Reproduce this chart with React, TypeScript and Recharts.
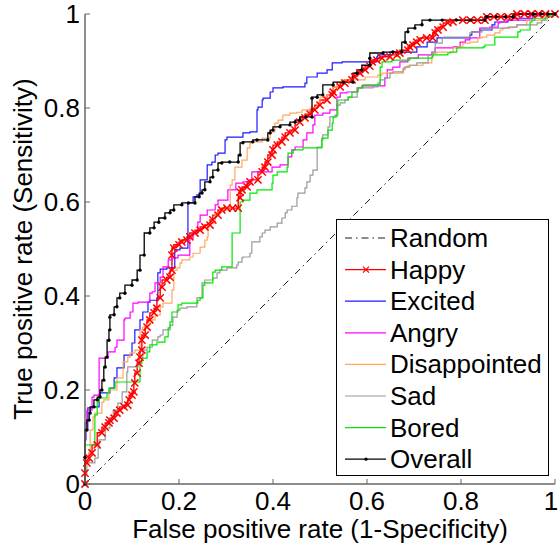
import { LineChart, Line, XAxis, YAxis, Legend, Label } from "recharts";

// ROC points, [false positive rate, true positive rate]
const tickValues = [0, 0.2, 0.4, 0.6, 0.8, 1];
const tickLabels = ["0", "0.2", "0.4", "0.6", "0.8", "1"];
const seriesNames = ["Random", "Happy", "Excited", "Angry", "Disappointed", "Sad", "Bored", "Overall"];
const xTitle = "False positive rate (1-Specificity)";
const yTitle = "True positive rate (Sensitivity)";

const randomRoc = [[0, 0], [1, 1]];

const happyRoc = [
  [0, 0], [0, 0.023], [0.004, 0.045], [0.009, 0.055], [0.015, 0.066], [0.026, 0.083], [0.036, 0.109],
  [0.043, 0.121], [0.051, 0.13], [0.053, 0.136], [0.062, 0.14], [0.068, 0.151], [0.074, 0.157],
  [0.083, 0.164], [0.091, 0.168], [0.094, 0.179], [0.1, 0.189], [0.104, 0.196], [0.106, 0.215],
  [0.111, 0.236], [0.115, 0.257], [0.117, 0.27], [0.121, 0.285], [0.121, 0.306], [0.128, 0.317],
  [0.132, 0.334], [0.138, 0.349], [0.147, 0.364], [0.153, 0.374], [0.16, 0.396], [0.164, 0.419],
  [0.174, 0.434], [0.181, 0.44], [0.185, 0.455], [0.185, 0.487], [0.189, 0.502], [0.2, 0.509],
  [0.206, 0.515], [0.217, 0.519], [0.223, 0.526], [0.234, 0.534], [0.245, 0.54], [0.255, 0.547],
  [0.266, 0.551], [0.272, 0.562], [0.283, 0.572], [0.291, 0.583], [0.302, 0.587], [0.314, 0.587],
  [0.326, 0.587], [0.33, 0.609], [0.33, 0.621], [0.334, 0.626], [0.345, 0.632], [0.351, 0.643],
  [0.368, 0.647], [0.377, 0.664], [0.383, 0.674], [0.389, 0.685], [0.398, 0.7], [0.4, 0.711],
  [0.409, 0.721], [0.419, 0.728], [0.426, 0.738], [0.436, 0.747], [0.447, 0.753], [0.457, 0.77],
  [0.468, 0.779], [0.479, 0.787], [0.489, 0.796], [0.5, 0.806], [0.515, 0.817], [0.526, 0.828],
  [0.528, 0.834], [0.543, 0.845], [0.553, 0.853], [0.568, 0.86], [0.574, 0.866], [0.585, 0.874],
  [0.596, 0.881], [0.606, 0.889], [0.611, 0.898], [0.621, 0.902], [0.632, 0.906], [0.649, 0.909],
  [0.664, 0.913], [0.67, 0.917], [0.687, 0.923], [0.691, 0.93], [0.698, 0.934], [0.706, 0.94],
  [0.713, 0.945], [0.727, 0.949], [0.74, 0.949], [0.745, 0.96], [0.751, 0.966], [0.762, 0.972],
  [0.772, 0.981], [0.783, 0.983], [0.804, 0.987], [0.82, 0.987], [0.835, 0.987], [0.851, 0.987],
  [0.855, 0.994], [0.87, 0.994], [0.885, 0.994], [0.9, 0.994], [0.915, 0.994], [0.919, 1],
  [0.935, 1], [0.95, 1], [0.965, 1], [0.98, 1], [1, 1],
];

const excitedRoc = [
  [0, 0], [0, 0.03], [0.002, 0.094], [0.006, 0.115], [0.015, 0.162], [0.03, 0.164], [0.032, 0.189],
  [0.053, 0.194], [0.062, 0.204], [0.068, 0.226], [0.083, 0.247], [0.1, 0.274], [0.106, 0.3],
  [0.117, 0.328], [0.123, 0.349], [0.134, 0.366], [0.138, 0.387], [0.155, 0.391], [0.16, 0.449],
  [0.174, 0.457], [0.191, 0.46], [0.202, 0.498], [0.219, 0.502], [0.23, 0.598], [0.238, 0.611],
  [0.245, 0.615], [0.26, 0.647], [0.27, 0.679], [0.277, 0.685], [0.283, 0.7], [0.298, 0.704],
  [0.302, 0.732], [0.336, 0.738], [0.351, 0.747], [0.366, 0.749], [0.368, 0.796], [0.377, 0.802],
  [0.379, 0.817], [0.394, 0.821], [0.4, 0.834], [0.421, 0.843], [0.468, 0.845], [0.472, 0.853],
  [0.494, 0.866], [0.515, 0.874], [0.526, 0.881], [0.547, 0.896], [0.621, 0.898], [0.623, 0.909],
  [0.649, 0.913], [0.706, 0.919], [0.728, 0.93], [0.749, 0.94], [0.751, 0.949], [0.819, 0.949],
  [0.823, 0.955], [0.84, 0.962], [0.866, 0.966], [0.872, 0.977], [0.9, 0.983], [0.909, 0.987],
  [0.953, 0.991], [0.962, 0.998], [1, 1],
];

const angryRoc = [
  [0, 0], [0, 0.094], [0.004, 0.13], [0.015, 0.157], [0.019, 0.185], [0.03, 0.189], [0.049, 0.268],
  [0.064, 0.281], [0.068, 0.291], [0.083, 0.306], [0.085, 0.349], [0.096, 0.353], [0.102, 0.366],
  [0.113, 0.385], [0.138, 0.387], [0.143, 0.406], [0.149, 0.409], [0.16, 0.428], [0.166, 0.44],
  [0.177, 0.462], [0.185, 0.477], [0.198, 0.481], [0.206, 0.487], [0.223, 0.487], [0.23, 0.523],
  [0.24, 0.534], [0.245, 0.557], [0.26, 0.572], [0.277, 0.583], [0.283, 0.594], [0.304, 0.604],
  [0.321, 0.626], [0.336, 0.64], [0.355, 0.643], [0.398, 0.664], [0.415, 0.674], [0.432, 0.679],
  [0.44, 0.696], [0.447, 0.711], [0.464, 0.717], [0.472, 0.732], [0.485, 0.747], [0.489, 0.764],
  [0.506, 0.785], [0.521, 0.789], [0.536, 0.796], [0.543, 0.823], [0.557, 0.832], [0.579, 0.834],
  [0.589, 0.843], [0.638, 0.847], [0.643, 0.864], [0.655, 0.881], [0.67, 0.887], [0.687, 0.898],
  [0.709, 0.906], [0.717, 0.913], [0.738, 0.913], [0.745, 0.919], [0.783, 0.928], [0.798, 0.93],
  [0.809, 0.94], [0.819, 0.945], [0.84, 0.949], [0.862, 0.97], [0.879, 0.972], [0.883, 0.981],
  [0.898, 0.983], [0.947, 0.987], [0.968, 0.996], [1, 1],
];

const disappointedRoc = [
  [0, 0], [0, 0.03], [0.004, 0.047], [0.009, 0.055], [0.011, 0.066], [0.017, 0.115], [0.021, 0.143],
  [0.036, 0.151], [0.04, 0.174], [0.051, 0.179], [0.062, 0.2], [0.068, 0.2], [0.081, 0.226],
  [0.091, 0.26], [0.096, 0.27], [0.106, 0.279], [0.117, 0.285], [0.123, 0.328], [0.132, 0.334],
  [0.143, 0.343], [0.149, 0.349], [0.16, 0.36], [0.166, 0.377], [0.177, 0.385], [0.185, 0.385],
  [0.189, 0.413], [0.196, 0.455], [0.202, 0.46], [0.206, 0.47], [0.223, 0.477], [0.23, 0.483],
  [0.245, 0.491], [0.255, 0.504], [0.26, 0.519], [0.262, 0.526], [0.277, 0.555], [0.287, 0.577],
  [0.309, 0.583], [0.313, 0.636], [0.319, 0.647], [0.334, 0.674], [0.345, 0.689], [0.351, 0.715],
  [0.357, 0.726], [0.377, 0.728], [0.394, 0.736], [0.404, 0.749], [0.411, 0.768], [0.421, 0.774],
  [0.436, 0.785], [0.451, 0.789], [0.462, 0.791], [0.479, 0.796], [0.494, 0.8], [0.5, 0.811],
  [0.515, 0.823], [0.528, 0.828], [0.536, 0.845], [0.547, 0.855], [0.596, 0.86], [0.623, 0.866],
  [0.632, 0.87], [0.677, 0.874], [0.681, 0.881], [0.687, 0.887], [0.719, 0.891], [0.738, 0.896],
  [0.74, 0.906], [0.749, 0.917], [0.783, 0.919], [0.794, 0.928], [0.804, 0.93], [0.819, 0.938],
  [0.836, 0.94], [0.845, 0.949], [0.855, 0.951], [0.872, 0.955], [0.883, 0.96], [0.889, 0.966],
  [0.904, 0.97], [0.919, 0.972], [0.94, 0.977], [0.953, 0.987], [0.983, 0.987], [0.989, 0.994],
  [1, 1],
];

const sadRoc = [
  [0, 0], [0, 0.013], [0.004, 0.023], [0.021, 0.045], [0.028, 0.055], [0.03, 0.077], [0.043, 0.094],
  [0.053, 0.119], [0.06, 0.14], [0.07, 0.157], [0.079, 0.172], [0.089, 0.196], [0.091, 0.238],
  [0.102, 0.249], [0.113, 0.249], [0.123, 0.268], [0.132, 0.285], [0.143, 0.291], [0.155, 0.306],
  [0.16, 0.313], [0.166, 0.317], [0.181, 0.328], [0.187, 0.338], [0.196, 0.355], [0.202, 0.37],
  [0.217, 0.374], [0.238, 0.377], [0.249, 0.396], [0.255, 0.428], [0.272, 0.434], [0.281, 0.438],
  [0.287, 0.449], [0.302, 0.455], [0.323, 0.46], [0.326, 0.466], [0.334, 0.472], [0.336, 0.481],
  [0.351, 0.483], [0.355, 0.491], [0.362, 0.515], [0.372, 0.515], [0.377, 0.526], [0.383, 0.534],
  [0.394, 0.54], [0.409, 0.547], [0.419, 0.555], [0.426, 0.566], [0.43, 0.577], [0.44, 0.583],
  [0.451, 0.591], [0.453, 0.609], [0.468, 0.619], [0.472, 0.63], [0.479, 0.643], [0.485, 0.657],
  [0.494, 0.668], [0.494, 0.711], [0.504, 0.717], [0.506, 0.736], [0.517, 0.743], [0.521, 0.76],
  [0.532, 0.781], [0.538, 0.785], [0.538, 0.8], [0.543, 0.806], [0.553, 0.811], [0.56, 0.817],
  [0.579, 0.823], [0.581, 0.838], [0.613, 0.843], [0.623, 0.845], [0.628, 0.853], [0.638, 0.86],
  [0.649, 0.864], [0.655, 0.874], [0.677, 0.877], [0.681, 0.885], [0.691, 0.887], [0.706, 0.891],
  [0.73, 0.896], [0.74, 0.913], [0.745, 0.917], [0.76, 0.938], [0.762, 0.949], [0.819, 0.951],
  [0.823, 0.96], [0.845, 0.962], [0.866, 0.97], [0.9, 0.97], [0.919, 0.972], [0.962, 0.977],
  [0.972, 0.981], [0.979, 0.987], [0.996, 0.994], [1, 1],
];

const boredRoc = [
  [0, 0], [0, 0.083], [0.021, 0.083], [0.026, 0.147], [0.03, 0.174], [0.047, 0.183], [0.051, 0.194],
  [0.064, 0.204], [0.072, 0.217], [0.117, 0.217], [0.121, 0.257], [0.132, 0.268], [0.138, 0.281],
  [0.153, 0.296], [0.17, 0.302], [0.177, 0.313], [0.181, 0.332], [0.185, 0.345], [0.198, 0.366],
  [0.206, 0.381], [0.24, 0.385], [0.245, 0.391], [0.251, 0.396], [0.255, 0.423], [0.272, 0.428],
  [0.277, 0.451], [0.291, 0.455], [0.313, 0.462], [0.315, 0.534], [0.33, 0.534], [0.33, 0.579],
  [0.336, 0.6], [0.351, 0.604], [0.366, 0.619], [0.398, 0.626], [0.4, 0.64], [0.409, 0.657],
  [0.43, 0.664], [0.432, 0.674], [0.443, 0.704], [0.464, 0.711], [0.504, 0.715], [0.506, 0.732],
  [0.517, 0.736], [0.526, 0.753], [0.528, 0.768], [0.536, 0.781], [0.538, 0.806], [0.56, 0.817],
  [0.568, 0.823], [0.581, 0.834], [0.591, 0.843], [0.628, 0.849], [0.632, 0.887], [0.653, 0.898],
  [0.691, 0.902], [0.738, 0.906], [0.74, 0.909], [0.772, 0.913], [0.777, 0.917], [0.791, 0.919],
  [0.794, 0.928], [0.847, 0.928], [0.851, 0.93], [0.872, 0.934], [0.879, 0.951], [0.921, 0.951],
  [0.926, 0.962], [0.947, 0.966], [0.951, 0.983], [0.957, 0.987], [0.983, 0.991], [0.996, 0.996],
  [1, 1],
];

const overallRoc = [
  [0, 0], [0, 0.057], [0.004, 0.115], [0.009, 0.136], [0.011, 0.151], [0.019, 0.164], [0.026, 0.179],
  [0.032, 0.185], [0.036, 0.2], [0.04, 0.221], [0.043, 0.249], [0.047, 0.27], [0.051, 0.306],
  [0.053, 0.328], [0.053, 0.355], [0.062, 0.36], [0.068, 0.377], [0.074, 0.396], [0.085, 0.406],
  [0.1, 0.423], [0.111, 0.434], [0.117, 0.455], [0.126, 0.487], [0.138, 0.534], [0.147, 0.545],
  [0.157, 0.557], [0.17, 0.566], [0.181, 0.577], [0.189, 0.583], [0.206, 0.594], [0.22, 0.598],
  [0.234, 0.598], [0.243, 0.611], [0.249, 0.619], [0.255, 0.626], [0.266, 0.643], [0.272, 0.653],
  [0.283, 0.668], [0.291, 0.683], [0.308, 0.685], [0.326, 0.685], [0.33, 0.7], [0.336, 0.726],
  [0.357, 0.728], [0.366, 0.732], [0.389, 0.732], [0.394, 0.747], [0.4, 0.753], [0.415, 0.76],
  [0.436, 0.764], [0.447, 0.77], [0.457, 0.774], [0.47, 0.781], [0.483, 0.781], [0.483, 0.821],
  [0.494, 0.823], [0.506, 0.828], [0.528, 0.849], [0.55, 0.855], [0.57, 0.855], [0.579, 0.874],
  [0.589, 0.881], [0.606, 0.891], [0.606, 0.906], [0.634, 0.917], [0.655, 0.919], [0.674, 0.919],
  [0.681, 0.94], [0.687, 0.962], [0.702, 0.97], [0.717, 0.977], [0.734, 0.987], [0.76, 0.987],
  [0.79, 0.987], [0.82, 0.987], [0.851, 0.987], [0.855, 0.994], [0.875, 0.994], [0.895, 0.994],
  [0.911, 0.994], [0.953, 1], [0.97, 1], [0.985, 1], [1, 1],
];

const rocSets = [randomRoc, happyRoc, excitedRoc, angryRoc, disappointedRoc, sadRoc, boredRoc, overallRoc];

// drawing styles, one per series in the same order
const seriesStyles = [
  { color: "#000000", width: 0.9, dash: "7 4 1.5 4", marker: "none" },
  { color: "#ff0000", width: 1.4, dash: undefined, marker: "x" },
  { color: "#1a1aff", width: 1.2, dash: undefined, marker: "none" },
  { color: "#ff00ff", width: 1.2, dash: undefined, marker: "none" },
  { color: "#ffa860", width: 1.2, dash: undefined, marker: "none" },
  { color: "#999999", width: 1.2, dash: undefined, marker: "none" },
  { color: "#00e600", width: 1.2, dash: undefined, marker: "none" },
  { color: "#000000", width: 1.3, dash: undefined, marker: "dot" },
];

const FONT = "'Liberation Sans', Arial, Helvetica, sans-serif";
const AXIS = "#666666";

const toPoints = (rows: number[][]) => rows.map(([x, y]) => ({ x, y }));

const crossPath = (cx: number, cy: number, s: number) =>
  `M${cx - s},${cy - s}L${cx + s},${cy + s}M${cx - s},${cy + s}L${cx + s},${cy - s}`;

const renderMarker = (kind: string, color: string) => (props: any) => {
  const { cx, cy, index } = props;
  if (cx == null || cy == null) return <g key={`m-${index}`} />;
  if (kind === "x") {
    return <path key={`m-${index}`} d={crossPath(cx, cy, 3.6)} stroke={color} strokeWidth={1.5} fill="none" />;
  }
  return <circle key={`m-${index}`} cx={cx} cy={cy} r={1.7} fill={color} />;
};

const XTick = (props: any) => {
  const { x, y, payload } = props;
  return (
    <g>
      <line x1={x} y1={y} x2={x} y2={y - 5} stroke={AXIS} strokeWidth={1} />
      <text x={Math.min(x, 551)} y={y + 26} textAnchor="middle" fontSize={26} fontFamily={FONT} fill="#000">
        {tickLabels[tickValues.indexOf(payload.value)]}
      </text>
    </g>
  );
};

const YTick = (props: any) => {
  const { x, y, payload } = props;
  return (
    <g>
      <line x1={x} y1={y} x2={x + 5} y2={y} stroke={AXIS} strokeWidth={1} />
      <text x={x - 5} y={y + 9} textAnchor="end" fontSize={26} fontFamily={FONT} fill="#000">
        {tickLabels[tickValues.indexOf(payload.value)]}
      </text>
    </g>
  );
};

const LegendBox = () => {
  const rowGap = 31.6;
  return (
    <svg width={214} height={258} style={{ display: "block" }}>
      <rect x={0.5} y={0.5} width={212} height={256} fill="#fff" stroke="#000" strokeWidth={1} />
      {seriesNames.map((name, i) => {
        const st = seriesStyles[i];
        const cy = 19 + i * rowGap;
        return (
          <g key={name}>
            <line x1={9} y1={cy} x2={50} y2={cy} stroke={st.color} strokeWidth={st.width} strokeDasharray={st.dash} />
            {st.marker === "x" && <path d={crossPath(30, cy, 3)} stroke={st.color} strokeWidth={1.2} fill="none" />}
            {st.marker === "dot" && <circle cx={30} cy={cy} r={1.6} fill={st.color} />}
            <text x={54} y={cy + 9} fontSize={26} fontFamily={FONT} fill="#000">
              {name}
            </text>
          </g>
        );
      })}
    </svg>
  );
};

export default function App() {
  return (
    <div style={{ position: "absolute", left: 0, top: 0, width: 560, height: 546, background: "#fff" }}>
      <LineChart width={560} height={546} margin={{ top: 14, right: 5, bottom: 0, left: 0 }}>
        <XAxis
          type="number"
          dataKey="x"
          domain={[0, 1]}
          ticks={tickValues}
          height={62}
          tickSize={0}
          tickMargin={0}
          tickLine={false}
          tick={<XTick />}
          axisLine={{ stroke: AXIS, strokeWidth: 1.5 }}
          allowDuplicatedCategory={false}
        >
          <Label
            content={(p: any) => (
              <text
                x={p.viewBox.x + p.viewBox.width / 2}
                y={p.viewBox.y + 54}
                textAnchor="middle"
                fontSize={26}
                fontFamily={FONT}
                fill="#000"
              >
                {xTitle}
              </text>
            )}
          />
        </XAxis>
        <YAxis
          type="number"
          dataKey="y"
          domain={[0, 1]}
          ticks={tickValues}
          width={85}
          tickSize={0}
          tickMargin={0}
          tickLine={false}
          tick={<YTick />}
          axisLine={{ stroke: AXIS, strokeWidth: 1.5 }}
        >
          <Label
            content={(p: any) => {
              const cx = 32;
              const cy = p.viewBox.y + p.viewBox.height / 2;
              return (
                <text
                  x={cx}
                  y={cy}
                  textAnchor="middle"
                  fontSize={26}
                  fontFamily={FONT}
                  fill="#000"
                  transform={`rotate(-90, ${cx}, ${cy})`}
                >
                  {yTitle}
                </text>
              );
            }}
          />
        </YAxis>
        {rocSets.map((rows, i) => {
          const st = seriesStyles[i];
          return (
            <Line
              key={seriesNames[i]}
              name={seriesNames[i]}
              data={toPoints(rows)}
              dataKey="y"
              type={i === 0 ? "linear" : "stepBefore"}
              stroke={st.color}
              strokeWidth={st.width}
              strokeDasharray={st.dash}
              dot={st.marker === "none" ? false : renderMarker(st.marker, st.color)}
              activeDot={false}
              isAnimationActive={false}
            />
          );
        })}
        <Legend
          layout="vertical"
          align="center"
          verticalAlign="middle"
          content={<LegendBox />}
          wrapperStyle={{ left: 336, top: 219, width: 214, height: 258 }}
        />
      </LineChart>
    </div>
  );
}
